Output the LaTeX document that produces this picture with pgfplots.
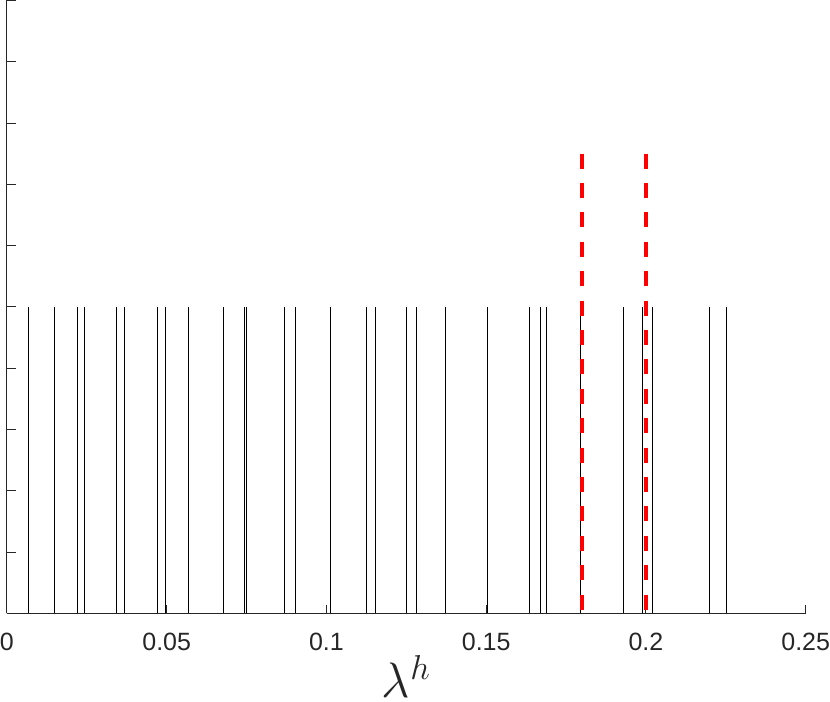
\documentclass[border=0pt]{standalone}
\usepackage{pgfplots}
\pgfplotsset{compat=1.18}
\usepackage{fontspec}
\setmainfont{Liberation Sans}
\definecolor{axgray}{HTML}{262626}
\definecolor{mred}{HTML}{FF0000}
\pgfplotstableread{
x y
0.00666 0.5
0.0148 0.5
0.0221 0.5
0.0244 0.5
0.0343 0.5
0.0367 0.5
0.0472 0.5
0.0497 0.5
0.0567 0.5
0.0679 0.5
0.0742 0.5
0.0750 0.5
0.0870 0.5
0.0904 0.5
0.1012 0.5
0.1125 0.5
0.1155 0.5
0.1251 0.5
0.1282 0.5
0.1373 0.5
0.1504 0.5
0.1635 0.5
0.1669 0.5
0.1689 0.5
0.1795 0.5
0.1930 0.5
0.1990 0.5
0.2022 0.5
0.2200 0.5
0.2253 0.5
}\eigs
\begin{document}
\begin{tikzpicture}
\begin{axis}[
  scale only axis,
  width=399.5pt, height=306.5pt,
  xmin=0, xmax=0.25, ymin=0, ymax=1,
  axis x line*=bottom, axis y line*=left,
  axis line style={color=axgray, line width=0.5pt},
  tick style={color=axgray, line width=0.5pt},
  major tick length=4.3pt,
  tick align=inside,
  xtick={0,0.05,0.1,0.15,0.2,0.25},
  xticklabels={0,0.05,0.1,0.15,0.2,0.25},
  ytick={0,0.1,0.2,0.3,0.4,0.5,0.6,0.7,0.8,0.9,1},
  yticklabels={},
  yticklabel style={overlay},
  /pgf/number format/assume math mode=true,
  xticklabel style={font=\fontsize{12.5}{15}\selectfont, text=axgray, inner xsep=0pt, yshift=-6.5pt},
  xlabel={$\lambda^h$},
  xlabel style={font=\fontsize{25}{30}\selectfont, text=axgray, inner ysep=2pt,
    at={(axis description cs:0.5,0)}, anchor=base, yshift=-42pt},
  clip=false,
]
\addplot[ycomb, black, line width=0.5pt, no marks] table[x=x,y=y] {\eigs};
\addplot[mred, line width=2pt, dash pattern=on 7.5pt off 7.2pt, no marks] coordinates {(0.18,0.75) (0.18,0)};
\addplot[mred, line width=2pt, dash pattern=on 7.5pt off 7.2pt, no marks] coordinates {(0.2,0.75) (0.2,0)};
\end{axis}
\end{tikzpicture}
\end{document}
